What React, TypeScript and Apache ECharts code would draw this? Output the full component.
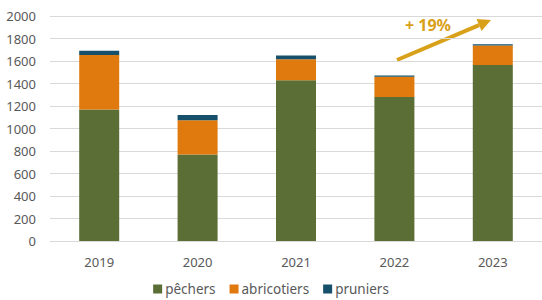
import React, { useEffect, useRef } from "react";
import * as echarts from "echarts";

const years = ["2019", "2020", "2021", "2022", "2023"];
const pechers = [1170, 770, 1430, 1280, 1565];
const abricotiers = [483, 303, 185, 180, 172];
const pruniers = [39, 47, 35, 12, 12];
const yTicks = { min: 0, max: 2000, interval: 200 };
const annotationText = "+ 19%";

const FONT = "'Noto Sans', sans-serif";
const GREY = "#595959";
const GOLD = "#D9A01A";

export default function App() {
  const ref = useRef<HTMLDivElement>(null);
  useEffect(() => {
    document.body.style.margin = "0";
    const chart = echarts.init(ref.current!, null, { renderer: "svg" });
    const mk = (name: string, data: number[], color: string) => ({
      name,
      type: "bar",
      stack: "total",
      data,
      barWidth: 40,
      itemStyle: { color },
    });
    const x1 = 397, y1 = 60, tx = 491, ty = 20;
    const dx = tx - x1, dy = ty - y1;
    const len = Math.sqrt(dx * dx + dy * dy);
    const ux = dx / len, uy = dy / len;
    const hl = 13, hw = 6.5;
    const bx = tx - hl * ux, by = ty - hl * uy;
    const nx = -uy, ny = ux;
    chart.setOption({
      animation: false,
      textStyle: { fontFamily: FONT },
      grid: { left: 50, right: -4, top: 16, bottom: 59 },
      legend: {
        bottom: -1,
        left: "center",
        itemWidth: 9,
        itemHeight: 9,
        itemGap: 14,
        icon: "rect",
        textStyle: { color: GREY, fontSize: 13.5, fontFamily: FONT, padding: [0, 0, 0, -2] },
        data: ["pêchers", "abricotiers", "pruniers"],
      },
      xAxis: {
        type: "category",
        data: years,
        axisLine: { lineStyle: { color: "#d9d9d9" } },
        axisTick: { show: false },
        axisLabel: { color: GREY, fontSize: 13, margin: 14, fontFamily: FONT },
      },
      yAxis: {
        type: "value",
        min: yTicks.min,
        max: yTicks.max,
        interval: yTicks.interval,
        axisLabel: {
          color: GREY,
          fontSize: 13,
          margin: 14,
          fontFamily: FONT,
          formatter: (v: number) => String(v),
        },
        splitLine: { lineStyle: { color: "#d9d9d9" } },
      },
      series: [
        mk("pêchers", pechers, "#5A6E35"),
        mk("abricotiers", abricotiers, "#E07A0E"),
        mk("pruniers", pruniers, "#16506A"),
      ],
      graphic: [
        {
          type: "line",
          shape: { x1, y1, x2: bx, y2: by },
          style: { stroke: GOLD, lineWidth: 4 },
        },
        {
          type: "polygon",
          shape: {
            points: [
              [tx, ty],
              [bx + hw * nx, by + hw * ny],
              [bx - hw * nx, by - hw * ny],
            ],
          },
          style: { fill: GOLD },
        },
        {
          type: "text",
          x: 428,
          y: 25,
          style: {
            text: annotationText,
            fill: GOLD,
            font: `bold 16px ${FONT}`,
            textAlign: "center",
            textVerticalAlign: "middle",
          },
        },
      ],
    });
    return () => chart.dispose();
  }, []);
  return <div ref={ref} style={{ width: 542, height: 300 }} />;
}
